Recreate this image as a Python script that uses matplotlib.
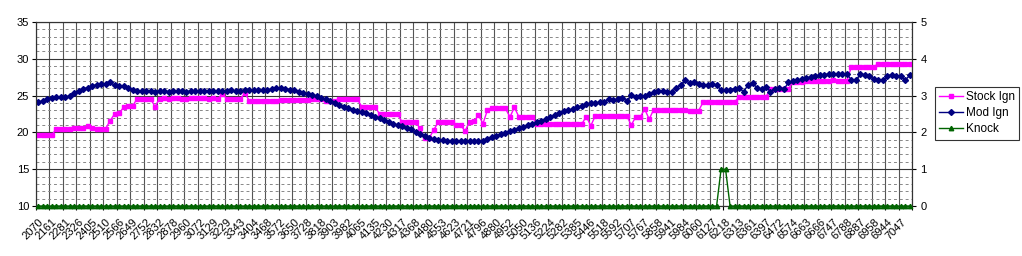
import numpy as np
import matplotlib
matplotlib.use("Agg")
import matplotlib.pyplot as plt
import matplotlib.transforms as mtransforms
from matplotlib.ticker import FixedLocator, MultipleLocator

plt.rcParams['font.family'] = ['Liberation Sans', 'DejaVu Sans']

tick_labels = ["2070", "2161", "2281", "2326", "2405", "2510", "2566", "2649", "2752", "2832",
               "2878", "2960", "3072", "3129", "3229", "3343", "3404", "3468", "3572", "3650",
               "3728", "3818", "3903", "3982", "4065", "4135", "4230", "4317", "4368", "4480",
               "4553", "4623", "4721", "4796", "4880", "4952", "5050", "5136", "5224", "5282",
               "5385", "5446", "5518", "5592", "5707", "5767", "5858", "5941", "5984", "6060",
               "6127", "6218", "6313", "6361", "6397", "6472", "6574", "6663", "6666", "6747",
               "6788", "6887", "6958", "6944", "7047"]

stock_ign = [
    19.65, 19.65, 19.65, 19.65, 20.45, 20.45, 20.45, 20.45, 20.65, 20.65,
    20.65, 20.9, 20.65, 20.5, 20.5, 20.5, 21.6, 22.5, 22.6, 23.4,
    23.6, 23.6, 24.55, 24.55, 24.55, 24.55, 23.5, 24.6, 24.65, 24.6,
    24.7, 24.65, 24.6, 24.6, 24.65, 24.7, 24.7, 24.65, 24.6, 24.65,
    24.6, 25.2, 24.6, 24.6, 24.6, 24.6, 25.3, 24.3, 24.3, 24.3,
    24.3, 24.2, 24.2, 24.2, 24.4, 24.4, 24.4, 24.4, 24.4, 24.4,
    24.4, 24.5, 24.5, 24.5, 24.2, 24.2, 24.2, 24.55, 24.55, 24.55,
    24.55, 24.55, 23.5, 23.5, 23.5, 23.5, 22.45, 22.45, 22.45, 22.45,
    22.45, 21.4, 21.4, 21.4, 21.4, 20.55, 19.2, 19.2, 20.3, 21.35,
    21.35, 21.35, 21.35, 21.0, 21.0, 20.2, 21.4, 21.5, 22.35, 21.2,
    23.05, 23.25, 23.25, 23.25, 23.25, 22.1, 23.4, 22.1, 22.1, 22.1,
    22.1, 21.15, 21.15, 21.15, 21.15, 21.15, 21.15, 21.15, 21.15, 21.15,
    21.15, 21.15, 22.15, 20.9, 22.25, 22.25, 22.25, 22.25, 22.25, 22.25,
    22.25, 22.25, 21.0, 22.1, 22.1, 23.15, 21.8, 23.1, 23.1, 23.1,
    23.1, 23.1, 23.1, 23.1, 23.1, 22.95, 22.95, 22.95, 24.1, 24.1,
    24.1, 24.1, 24.1, 24.1, 24.1, 24.1, 24.85, 24.85, 24.85, 24.85,
    24.85, 24.85, 24.85, 25.9, 25.9, 25.9, 25.9, 25.9, 26.9, 26.9,
    26.9, 27.0, 27.0, 27.0, 27.0, 27.0, 27.0, 27.15, 27.0, 27.0,
    27.0, 28.9, 28.9, 28.9, 28.9, 28.9, 28.9, 29.35, 29.35, 29.35,
    29.35, 29.35, 29.35, 29.35, 29.35]

mod_ign = [
    24.1, 24.3, 24.6, 24.7, 24.75, 24.75, 24.8, 24.95, 25.3, 25.65,
    25.9, 26.1, 26.3, 26.5, 26.6, 26.6, 26.8, 26.4, 26.25, 26.25,
    26.0, 25.75, 25.65, 25.6, 25.6,
    25.6, 25.55, 25.6, 25.6, 25.55, 25.6, 25.6, 25.6, 25.55, 25.6, 25.6,
    25.65, 25.6, 25.65, 25.65, 25.6, 25.65, 25.65, 25.7, 25.65, 25.65,
    25.75, 25.7, 25.75, 25.8, 25.75,
    25.8, 25.9, 26.0, 26.0, 25.85, 25.8, 25.7, 25.55,
    25.35, 25.2, 25.05, 24.95, 24.7, 24.5, 24.25, 24.0, 23.7, 23.4,
    23.25, 23.05, 22.95, 22.75, 22.6, 22.35, 22.1, 21.9, 21.65, 21.45,
    21.2, 21.0, 20.85, 20.65, 20.4, 20.1, 19.75, 19.45, 19.3, 19.1,
    19.0, 18.95,
    18.88, 18.88, 18.85, 18.85, 18.85, 18.83, 18.83, 18.83, 18.85,
    19.05, 19.35, 19.55, 19.75, 19.95, 20.15, 20.35, 20.55, 20.75, 20.95,
    21.1, 21.35, 21.6, 21.85, 22.1, 22.35, 22.6, 22.85, 23.0, 23.15,
    23.4, 23.6, 23.8, 24.0, 23.95, 24.1, 24.15, 24.5, 24.4, 24.55,
    24.7, 24.3,
    25.05, 24.85, 24.9, 24.9, 25.15, 25.5, 25.65, 25.65, 25.55, 25.45,
    26.1, 26.45, 27.1, 26.7, 26.85, 26.55, 26.4, 26.45, 26.6, 26.4,
    25.8, 25.75, 25.75, 25.95, 26.0, 25.55, 26.4, 26.65, 26.1, 25.85,
    26.2, 25.55, 25.85, 26.0, 25.85, 26.8, 26.95, 27.1,
    27.2, 27.4, 27.55, 27.7, 27.8, 27.85, 27.95, 27.95, 27.95, 28.0,
    27.95, 27.15, 27.1, 27.9, 27.85, 27.65, 27.2, 27.1, 27.1, 27.6,
    27.8, 27.65, 27.6, 27.1, 27.75]

knock = [0] * 195
knock[152] = 1
knock[153] = 1

n = len(stock_ign)
x = np.arange(n)

fig = plt.figure(figsize=(10.22, 2.56), dpi=100)
ax = fig.add_axes([36 / 1022, 1 - 206 / 256, (912 - 36) / 1022, (206 - 22) / 256])

ax.set_xlim(-0.5, n - 0.5)
ax.set_ylim(10, 35)
ax.yaxis.set_major_locator(MultipleLocator(5))
ax.yaxis.set_minor_locator(MultipleLocator(1))
ax.xaxis.set_major_locator(FixedLocator(np.arange(0, n, 3)))
ax.set_xticklabels(tick_labels, rotation=45, ha='right', rotation_mode='anchor', fontsize=8)
shift = mtransforms.ScaledTranslation(-3 / 100, 0, fig.dpi_scale_trans)
for lbl in ax.get_xticklabels():
    lbl.set_transform(lbl.get_transform() + shift)
ax.xaxis.set_minor_locator(FixedLocator(np.arange(-0.5, n, 3)))
ax.tick_params(axis='x', which='major', length=0, pad=8)
ax.tick_params(axis='x', which='minor', length=3, width=0.8, direction='out')
ax.tick_params(axis='y', which='major', length=3, labelsize=8, pad=2)
ax.tick_params(axis='y', which='minor', length=0)

ax.grid(False)
for v in np.arange(-0.5, n, 3):
    ax.axvline(v, color='#555555', lw=0.8, zorder=0.5)
ax.grid(True, axis='y', which='major', color='#333333', lw=0.8, ls='-', zorder=0.6)
ax.grid(True, axis='y', which='minor', color='#888888', lw=0.7, ls=(0, (3, 3)), zorder=0.6)

l1, = ax.plot(x, stock_ign, color='#FF00FF', marker='s', ms=3.3, lw=1.0,
              mec='#FF00FF', mfc='#FF00FF', label='Stock Ign', zorder=3)
l2, = ax.plot(x, mod_ign, color='#000080', marker='D', ms=3.0, lw=1.0,
              mec='#000080', mfc='#000080', label='Mod Ign', zorder=3)

ax2 = ax.twinx()
ax2.set_ylim(0, 5)
ax2.yaxis.set_major_locator(MultipleLocator(1))
ax2.tick_params(axis='y', length=3, labelsize=8, pad=3)
l3, = ax2.plot(x, knock, color='#006400', marker='^', ms=3.2, lw=1.0,
               mec='#006400', mfc='#006400', label='Knock', zorder=3, clip_on=False)

for a in (ax, ax2):
    for s in a.spines.values():
        s.set_color('#333333')
        s.set_linewidth(0.8)

leg = fig.legend([l1, l2, l3], ['Stock Ign', 'Mod Ign', 'Knock'],
                 loc='upper left', bbox_to_anchor=(935 / 1022, 1 - 87 / 256),
                 fontsize=8.5, frameon=True, fancybox=False, edgecolor='black',
                 handlelength=2.0, handletextpad=0.3, borderpad=0.35,
                 labelspacing=0.35, borderaxespad=0.0)
leg.get_frame().set_linewidth(0.8)

fig.savefig('out.png', dpi=100)
